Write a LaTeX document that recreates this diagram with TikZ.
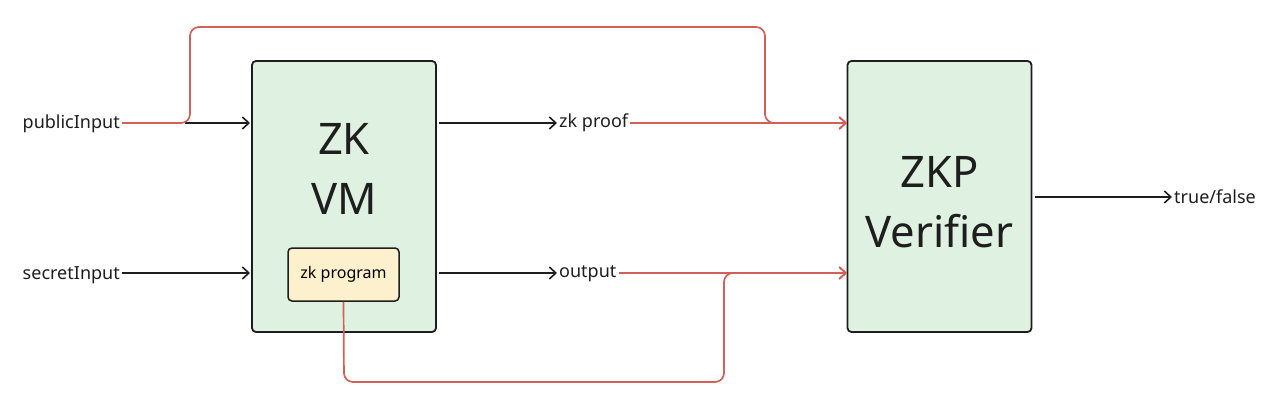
\documentclass[tikz,border=0pt]{standalone}
\usepackage{fontspec}
\setmainfont{Noto Sans}
\usetikzlibrary{arrows.meta}
\definecolor{boxgreen}{RGB}{223,242,226}
\definecolor{boxyellow}{RGB}{253,240,204}
\definecolor{linkred}{RGB}{208,96,88}
\definecolor{ink}{RGB}{30,30,30}
\tikzset{
  bigbox/.style={draw=ink, line width=1.8pt, fill=boxgreen, rounded corners=4pt, minimum width=184pt, minimum height=271pt, inner sep=0pt},
  progbox/.style={draw=ink, line width=1.5pt, fill=boxyellow, rounded corners=4pt, minimum width=111pt, minimum height=53pt, inner sep=0pt, font=\fontsize{16}{18}\selectfont},
  lbl/.style={font=\fontsize{18}{21}\selectfont, text=ink, inner sep=2pt},
  bigtxt/.style={font=\fontsize{43.5}{60}\selectfont, text=ink, align=center},
  blk/.style={draw=ink, line width=1.6pt, -{Straight Barb[length=6.5pt,width=12pt,line width=1.6pt]}},
  red/.style={draw=linkred, line width=1.7pt, rounded corners=9pt},
  redarr/.style={red, -{Straight Barb[length=6.5pt,width=12pt,line width=1.7pt]}}
}
\begin{document}
\begin{tikzpicture}[x=1pt,y=-1pt]
\useasboundingbox (0,0) rectangle (1280,412);
% boxes
\node[bigbox] (zkvm) at (344,196.5) {};
\node[bigtxt] (zkvmtxt) at (344,169) {ZK\\VM};
\node[progbox] (prog) at (343.5,274.5) {zk program};
\node[bigbox] (ver) at (939.5,196.5) {};
\node[bigtxt] (vertxt) at (939.5,202) {ZKP\\Verifier};
% labels
\node[lbl, anchor=east] (pub) at (122,124) {publicInput};
\node[lbl, anchor=east] (sec) at (122,275) {secretInput};
\node[lbl, anchor=west] (proof) at (557,123) {zk proof};
\node[lbl, anchor=west] (out) at (557,274) {output};
\node[lbl, anchor=west] (tf) at (1172,197) {true/false};
% coordinates
\coordinate (pubsplit) at (185,123);
\coordinate (zkin1) at (250,123);
\coordinate (zkin2) at (250,273);
\coordinate (zkout1) at (439,123);
\coordinate (zkout2) at (439,273);
\coordinate (verin1) at (847,123);
\coordinate (verin2) at (847,273);
\coordinate (verout) at (1035,197);
% black arrows
\draw[blk] (pubsplit) -- (zkin1);
\draw[blk] (sec.east |- zkin2) -- (zkin2);
\draw[blk] (zkout1) -- (proof.west |- zkout1);
\draw[blk] (zkout2) -- (out.west |- zkout2);
\draw[blk] (verout) -- (tf.west |- verout);
% red paths
\draw[redarr] (pub.east |- pubsplit) -- (190,123) -- (190,27) -- (765,27) -- (765,123) -- (verin1);
\draw[redarr] (proof.east |- verin1) -- (verin1);
\draw[redarr] (out.east |- verin2) -- (verin2);
\draw[redarr] (prog.south) -- (344,382) -- (724,382) -- (724,273) -- (verin2);
\end{tikzpicture}
\end{document}
